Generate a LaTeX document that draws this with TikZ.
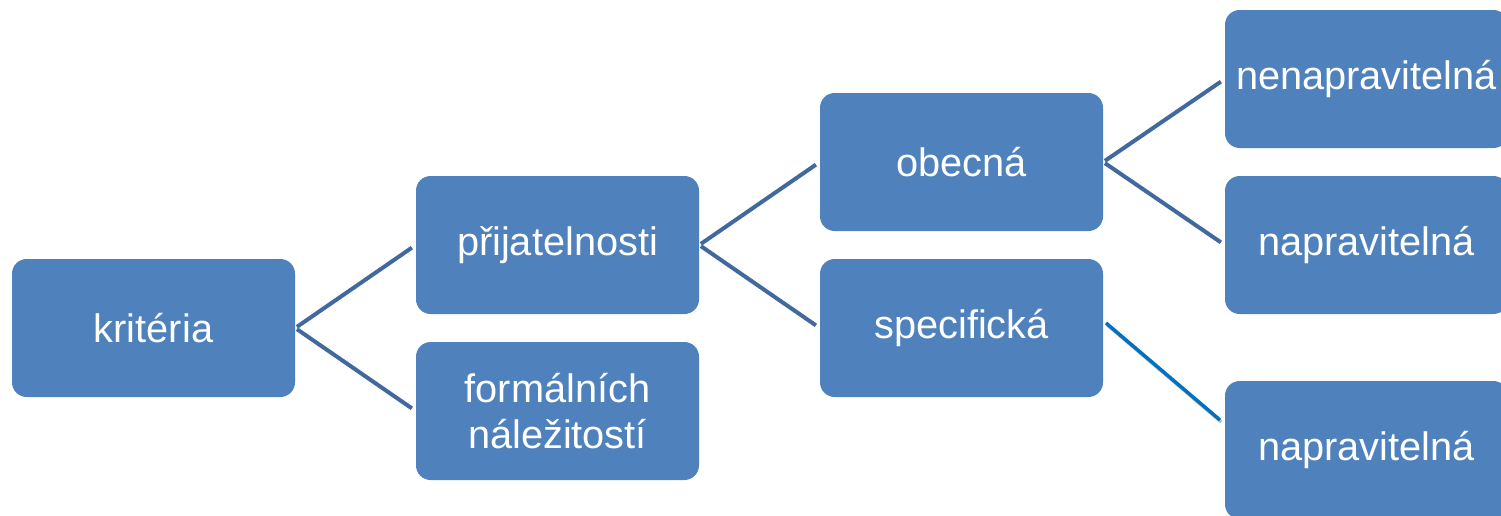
\documentclass[tikz,border=0pt]{standalone}
\usepackage{fontspec}
\setmainfont{Liberation Sans}
\definecolor{boxblue}{HTML}{4F81BD}
\definecolor{linkblue}{HTML}{41699E}
\definecolor{speclink}{HTML}{0070C0}
\begin{document}
\begin{tikzpicture}[x=0.75pt,y=-0.75pt,
  box/.style={draw=none,fill=boxblue,rounded corners=11pt,minimum width=212.25pt,minimum height=103.5pt,
    text=white,align=center,inner sep=0pt,font=\fontsize{29.8}{34}\selectfont},
  link/.style={draw=linkblue,line width=3pt,shorten <=1.5pt,shorten >=3.5pt},
  speciallink/.style={draw=speclink,line width=2.6pt}]
\useasboundingbox (0,0) rectangle (1501,515);
\begin{scope}
\clip (0,0) rectangle (1501,515);
\node[box] (krit) at (153.5,328) {kritéria};
\node[box] (prij) at (557.5,245) {přijatelnosti};
\node[box] (form) at (557.5,411) {formálních\\náležitostí};
\node[box] (obec) at (961.5,162) {obecná};
\node[box] (spec) at (961.5,328) {specifická};
\node[box] (nenap) at (1366.5,79) {nenapravitelná};
\node[box] (nap1) at (1366.5,245) {napravitelná};
\node[box] (nap2) at (1366.5,450) {napravitelná};
\end{scope}
\draw[link] (krit.east) -- (prij.west);
\draw[link] (krit.east) -- (form.west);
\draw[link] (prij.east) -- (obec.west);
\draw[link] (prij.east) -- (spec.west);
\draw[link] (obec.east) -- (nenap.west);
\draw[link] (obec.east) -- (nap1.west);
\coordinate (s1) at (1106,323);
\coordinate (s2) at (1220,420);
\draw[draw=black!25,line width=2.6pt,transform canvas={xshift=1pt,yshift=-1.5pt}] (s1) -- (s2);
\draw[speciallink] (s1) -- (s2);
\end{tikzpicture}
\end{document}
